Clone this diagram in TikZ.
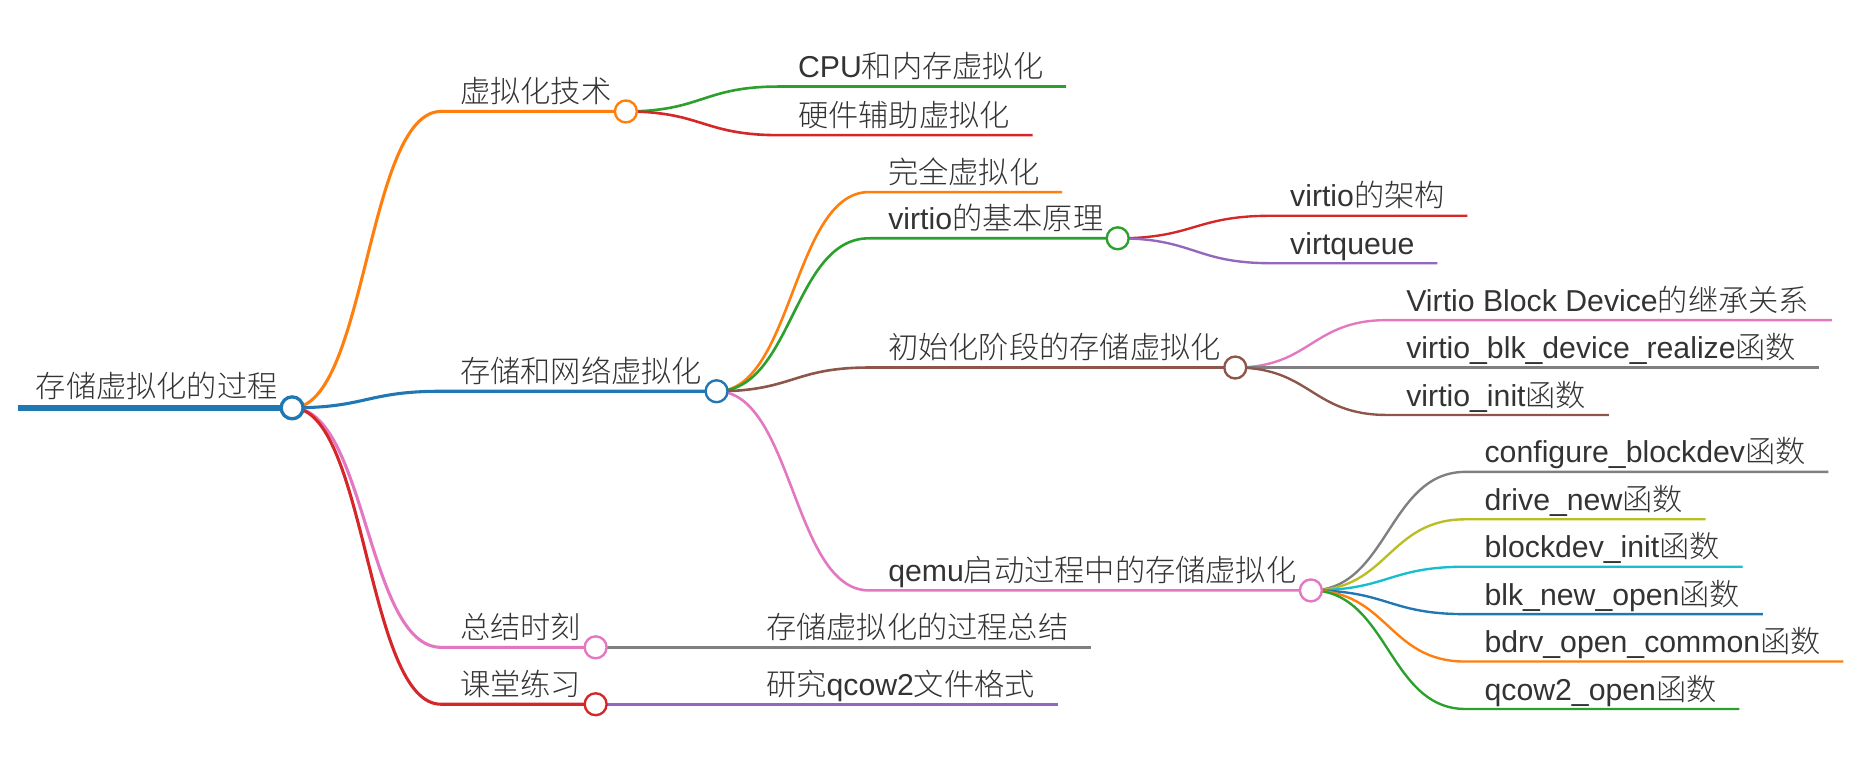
\documentclass[tikz,border=0pt]{standalone}
\usepackage{fontspec}
\setmainfont{Liberation Sans}
\newfontfamily\cjk{Noto Sans CJK SC}[UprightFont={* Light}]
\usetikzlibrary{calc,backgrounds}

\definecolor{mmblue}{HTML}{1F77B4}
\definecolor{mmorange}{HTML}{FF7F0E}
\definecolor{mmgreen}{HTML}{2CA02C}
\definecolor{mmred}{HTML}{D62728}
\definecolor{mmpurple}{HTML}{9467BD}
\definecolor{mmbrown}{HTML}{8C564B}
\definecolor{mmpink}{HTML}{E377C2}
\definecolor{mmgray}{HTML}{7F7F7F}
\definecolor{mmolive}{HTML}{BCBD22}
\definecolor{mmcyan}{HTML}{17BECF}
\definecolor{ink}{HTML}{333333}

\tikzset{
  lbl/.style={anchor=base west, inner sep=0pt, xshift=16pt, yshift=7.5pt, text=ink,
    font=\fontsize{25.5}{30}\selectfont},
  knob/.style={circle, draw=#1, fill=white, line width=2pt, minimum size=18.5pt, inner sep=0pt},
  limb/.style={to path={let \p1=(\tikztostart), \p2=(\tikztotarget) in
    .. controls ({0.5*\x1+0.5*\x2},\y1) and ({0.5*\x1+0.5*\x2},\y2) .. (\tikztotarget)}},
  deg1/.style={draw=#1, line width=2.6pt},
  deg2/.style={draw=#1, line width=2.2pt},
  deg3/.style={draw=#1, line width=2pt}
}

\begin{document}
\begin{tikzpicture}[x=1pt,y=-1pt]
   \useasboundingbox (0,0) rectangle (1568,650);

   % root
   \coordinate (root-a) at (15,344);
   \node[lbl, xshift=-1pt, yshift=1.5pt] (root) at (root-a) {\cjk 存储虚拟化的过程};
   \node[knob=mmblue, line width=2.8pt] (root-c) at ([xshift=12pt]root-a -| root.east) {};

   % first level
   \coordinate (tech-a) at (372,94);
   \node[lbl] (tech) at (tech-a) {\cjk 虚拟化技术};
   \node[knob=mmorange] (tech-c) at ([xshift=12pt]tech-a -| tech.east) {};
   \coordinate (net-a) at (372,330);
   \node[lbl] (net) at (net-a) {\cjk 存储和网络虚拟化};
   \node[knob=mmblue] (net-c) at ([xshift=12pt]net-a -| net.east) {};
   \coordinate (sum-a) at (372,546);
   \node[lbl] (sum) at (sum-a) {\cjk 总结时刻};
   \node[knob=mmpink] (sum-c) at ([xshift=12pt]sum-a -| sum.east) {};
   \coordinate (prac-a) at (372,594);
   \node[lbl] (prac) at (prac-a) {\cjk 课堂练习};
   \node[knob=mmred] (prac-c) at ([xshift=12pt]prac-a -| prac.east) {};

   % second level
   \coordinate (cpu-a) at (657,73);
   \node[lbl] (cpu) at (cpu-a) {CPU{\cjk 和内存虚拟化}};
   \coordinate (hw-a) at (657,114);
   \node[lbl] (hw) at (hw-a) {\cjk 硬件辅助虚拟化};
   \coordinate (full-a) at (733,162);
   \node[lbl] (full) at (full-a) {\cjk 完全虚拟化};
   \coordinate (vbase-a) at (733,201);
   \node[lbl] (vbase) at (vbase-a) {virtio{\cjk 的基本原理}};
   \node[knob=mmgreen] (vbase-c) at ([xshift=12pt]vbase-a -| vbase.east) {};
   \coordinate (init-a) at (733,310);
   \node[lbl] (init) at (init-a) {\cjk 初始化阶段的存储虚拟化};
   \node[knob=mmbrown] (init-c) at ([xshift=12pt]init-a -| init.east) {};
   \coordinate (qemu-a) at (733,498);
   \node[lbl] (qemu) at (qemu-a) {qemu{\cjk 启动过程中的存储虚拟化}};
   \node[knob=mmpink] (qemu-c) at ([xshift=12pt]qemu-a -| qemu.east) {};
   \coordinate (sumr-a) at (630,546);
   \node[lbl] (sumr) at (sumr-a) {\cjk 存储虚拟化的过程总结};
   \coordinate (study-a) at (630,594);
   \node[lbl] (study) at (study-a) {{\cjk 研究}qcow2{\cjk 文件格式}};

   % third level
   \coordinate (arch-a) at (1072,182);
   \node[lbl] (arch) at (arch-a) {virtio{\cjk 的架构}};
   \coordinate (vq-a) at (1072,222);
   \node[lbl] (vq) at (vq-a) {virtqueue};
   \coordinate (inh-a) at (1170,270);
   \node[lbl] (inh) at (inh-a) {Virtio Block Device{\cjk 的继承关系}};
   \coordinate (real-a) at (1170,310);
   \node[lbl] (real) at (real-a) {virtio\_blk\_device\_realize{\cjk 函数}};
   \coordinate (vinit-a) at (1170,350);
   \node[lbl] (vinit) at (vinit-a) {virtio\_init{\cjk 函数}};
   \coordinate (conf-a) at (1236,398);
   \node[lbl] (conf) at (conf-a) {configure\_blockdev{\cjk 函数}};
   \coordinate (drive-a) at (1236,438);
   \node[lbl] (drive) at (drive-a) {drive\_new{\cjk 函数}};
   \coordinate (bdinit-a) at (1236,478);
   \node[lbl] (bdinit) at (bdinit-a) {blockdev\_init{\cjk 函数}};
   \coordinate (blk-a) at (1236,518);
   \node[lbl] (blk) at (blk-a) {blk\_new\_open{\cjk 函数}};
   \coordinate (bdrv-a) at (1236,558);
   \node[lbl] (bdrv) at (bdrv-a) {bdrv\_open\_common{\cjk 函数}};
   \coordinate (qcow-a) at (1236,598);
   \node[lbl] (qcow) at (qcow-a) {qcow2\_open{\cjk 函数}};

   % branches
   \begin{scope}[on background layer]
      \draw[mmblue, line width=5.5pt] (root-a) -- (root-c.center);
      \draw[deg1=mmorange] (root-c.center) to[limb] (tech-a) -- (tech-c.center);
      \draw[deg1=mmblue] (root-c.center) to[limb] (net-a) -- (net-c.center);
      \draw[deg1=mmpink] (root-c.center) to[limb] (sum-a) -- (sum-c.center);
      \draw[deg1=mmred] (root-c.center) to[limb] (prac-a) -- (prac-c.center);

      \draw[deg2=mmgreen] (tech-c.center) to[limb] (cpu-a) -- ([xshift=19pt]cpu-a -| cpu.east);
      \draw[deg2=mmred] (tech-c.center) to[limb] (hw-a) -- ([xshift=19pt]hw-a -| hw.east);
      \draw[deg2=mmorange] (net-c.center) to[limb] (full-a) -- ([xshift=19pt]full-a -| full.east);
      \draw[deg2=mmgreen] (net-c.center) to[limb] (vbase-a) -- (vbase-c.center);
      \draw[deg2=mmbrown] (net-c.center) to[limb] (init-a) -- (init-c.center);
      \draw[deg2=mmpink] (net-c.center) to[limb] (qemu-a) -- (qemu-c.center);
      \draw[deg2=mmgray] (sum-c.center) to[limb] (sumr-a) -- ([xshift=19pt]sumr-a -| sumr.east);
      \draw[deg2=mmpurple] (prac-c.center) to[limb] (study-a) -- ([xshift=19pt]study-a -| study.east);

      \draw[deg3=mmred] (vbase-c.center) to[limb] (arch-a) -- ([xshift=19pt]arch-a -| arch.east);
      \draw[deg3=mmpurple] (vbase-c.center) to[limb] (vq-a) -- ([xshift=19pt]vq-a -| vq.east);
      \draw[deg3=mmpink] (init-c.center) to[limb] (inh-a) -- ([xshift=19pt]inh-a -| inh.east);
      \draw[deg3=mmgray] (init-c.center) to[limb] (real-a) -- ([xshift=19pt]real-a -| real.east);
      \draw[deg3=mmbrown] (init-c.center) to[limb] (vinit-a) -- ([xshift=19pt]vinit-a -| vinit.east);
      \draw[deg3=mmgray] (qemu-c.center) to[limb] (conf-a) -- ([xshift=19pt]conf-a -| conf.east);
      \draw[deg3=mmolive] (qemu-c.center) to[limb] (drive-a) -- ([xshift=19pt]drive-a -| drive.east);
      \draw[deg3=mmcyan] (qemu-c.center) to[limb] (bdinit-a) -- ([xshift=19pt]bdinit-a -| bdinit.east);
      \draw[deg3=mmblue] (qemu-c.center) to[limb] (blk-a) -- ([xshift=19pt]blk-a -| blk.east);
      \draw[deg3=mmorange] (qemu-c.center) to[limb] (bdrv-a) -- ([xshift=19pt]bdrv-a -| bdrv.east);
      \draw[deg3=mmgreen] (qemu-c.center) to[limb] (qcow-a) -- ([xshift=19pt]qcow-a -| qcow.east);
   \end{scope}
\end{tikzpicture}
\end{document}
